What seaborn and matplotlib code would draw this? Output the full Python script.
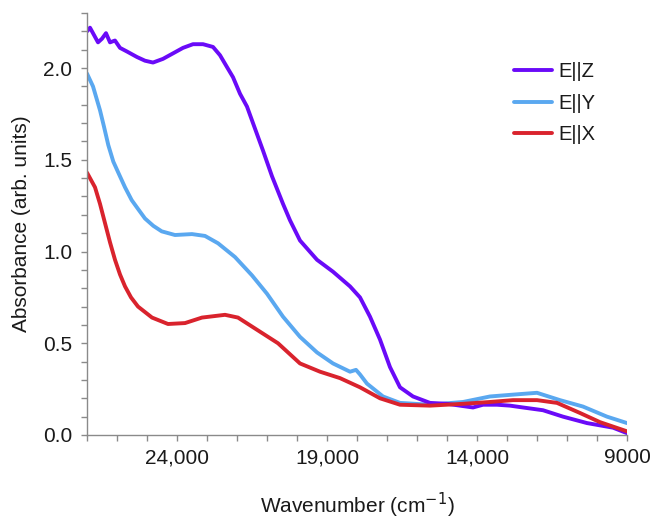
import numpy as np
import pandas as pd
import matplotlib
matplotlib.use("Agg")
import matplotlib.pyplot as plt
import seaborn as sns
from matplotlib.ticker import MultipleLocator, FixedLocator

# ---- data (wavenumber in cm^-1, absorbance in arb. units) ----
z_wn = [27000, 26900, 26800, 26633, 26500, 26367, 26233, 26067, 25900, 25667,
        25333, 25067, 24800, 24467, 24133, 23800, 23467, 23133, 22800, 22567,
        22333, 22133, 21900, 21667, 21467, 21133, 20833, 20467, 20233, 19900,
        19333, 18800, 18233, 17900, 17567, 17233, 16900, 16567, 16133, 15567,
        15000, 14133, 13800, 13333, 12900, 12467, 11800, 11133, 10333, 9467, 9000]
z_abs = [2.20, 2.22, 2.19, 2.14, 2.16, 2.19, 2.14, 2.15, 2.11, 2.09,
         2.06, 2.04, 2.03, 2.05, 2.08, 2.11, 2.13, 2.13, 2.115, 2.07,
         2.005, 1.95, 1.86, 1.79, 1.70, 1.55, 1.41, 1.26, 1.17, 1.06,
         0.955, 0.89, 0.81, 0.75, 0.645, 0.52, 0.37, 0.26, 0.21, 0.175,
         0.17, 0.15, 0.165, 0.165, 0.16, 0.15, 0.135, 0.10, 0.065, 0.04, 0.01]

y_wn = [27000, 26800, 26567, 26433, 26290, 26123, 25957, 25733, 25510, 25290,
        25067, 24790, 24510, 24067, 23500, 23067, 22633, 22067, 21500, 21000,
        20467, 19900, 19333, 18800, 18233, 18033, 17900, 17667, 17133, 16567,
        15567, 14467, 13567, 12800, 12000, 11233, 10467, 9667, 9000]
y_abs = [1.97, 1.90, 1.77, 1.68, 1.58, 1.49, 1.43, 1.35, 1.28, 1.23,
         1.18, 1.14, 1.11, 1.09, 1.095, 1.085, 1.045, 0.97, 0.87, 0.77,
         0.645, 0.535, 0.45, 0.39, 0.345, 0.355, 0.33, 0.28, 0.21, 0.175,
         0.165, 0.18, 0.21, 0.22, 0.23, 0.19, 0.155, 0.10, 0.065]

x_wn = [27000, 26733, 26567, 26400, 26233, 26067, 25900, 25733, 25533, 25300,
        24833, 24300, 23733, 23167, 22400, 21967, 21300, 20633, 19900, 19233,
        18567, 17900, 17233, 16567, 15567, 14467, 13567, 12800, 12000, 11333,
        10567, 9900, 9000]
x_abs = [1.43, 1.35, 1.26, 1.155, 1.05, 0.955, 0.875, 0.81, 0.75, 0.70,
         0.64, 0.605, 0.61, 0.64, 0.655, 0.64, 0.57, 0.50, 0.39, 0.345,
         0.31, 0.26, 0.20, 0.165, 0.16, 0.17, 0.18, 0.19, 0.19, 0.175,
         0.12, 0.07, 0.02]

series_labels = ["E||Z", "E||Y", "E||X"]
xtick_vals = [24000, 19000, 14000, 9000]
xtick_labels = ["24,000", "19,000", "14,000", "9000"]
ytick_vals = [0.0, 0.5, 1.0, 1.5, 2.0]
ytick_labels = ["0.0", "0.5", "1.0", "1.5", "2.0"]

colors = {"E||Z": "#6a0af8", "E||Y": "#5aa8f0", "E||X": "#d9232d"}

sns.set_style("ticks")
plt.rcParams["font.family"] = ["Liberation Sans", "DejaVu Sans"]

fig = plt.figure(figsize=(6.54, 5.21), dpi=100)
ax = fig.add_axes([87/654, 1-435/521, (627-87)/654, (435-13)/521])

data = {"E||Z": (z_wn, z_abs), "E||Y": (y_wn, y_abs), "E||X": (x_wn, x_abs)}
handles = {}
for lab in ["E||Y", "E||Z", "E||X"]:
    wn, ab = data[lab]
    df = pd.DataFrame({"wn": wn, "abs": ab})
    sns.lineplot(data=df, x="wn", y="abs", ax=ax, sort=False, color=colors[lab],
                 linewidth=2.8, label=lab, legend=False)
    handles[lab] = ax.lines[-1]

ax.set_xlim(27000, 9000)
ax.set_ylim(0, 2.3)
ax.xaxis.set_major_locator(FixedLocator(xtick_vals))
ax.set_xticklabels(xtick_labels)
ax.xaxis.set_minor_locator(MultipleLocator(1000))
ax.yaxis.set_major_locator(FixedLocator(ytick_vals))
ax.set_yticklabels(ytick_labels)
ax.yaxis.set_minor_locator(MultipleLocator(0.1))

for s in ["top", "right"]:
    ax.spines[s].set_visible(False)
for s in ["left", "bottom"]:
    ax.spines[s].set_color("#8a8a8a")
    ax.spines[s].set_linewidth(1.0)
ax.tick_params(which="both", direction="out", color="#8a8a8a", width=1.0,
               labelsize=15, labelcolor="#1a1a1a", length=4.5)
ax.tick_params(axis="x", pad=5)
ax.tick_params(axis="y", pad=6)

ax.set_xlabel("Wavenumber (cm$^{-1}$)", fontsize=15, color="#1a1a1a", labelpad=17)
ax.set_ylabel("Absorbance (arb. units)", fontsize=15, color="#1a1a1a", labelpad=9)

leg = ax.legend([handles[l] for l in series_labels], series_labels,
                loc="upper left", bbox_to_anchor=(496/654, 1-44/521),
                bbox_transform=fig.transFigure, frameon=False, fontsize=14.5,
                handlelength=1.9, handletextpad=0.3, labelspacing=0.62)
for t in leg.get_texts():
    t.set_color("#1a1a1a")

fig.savefig("out.png", dpi=100)
